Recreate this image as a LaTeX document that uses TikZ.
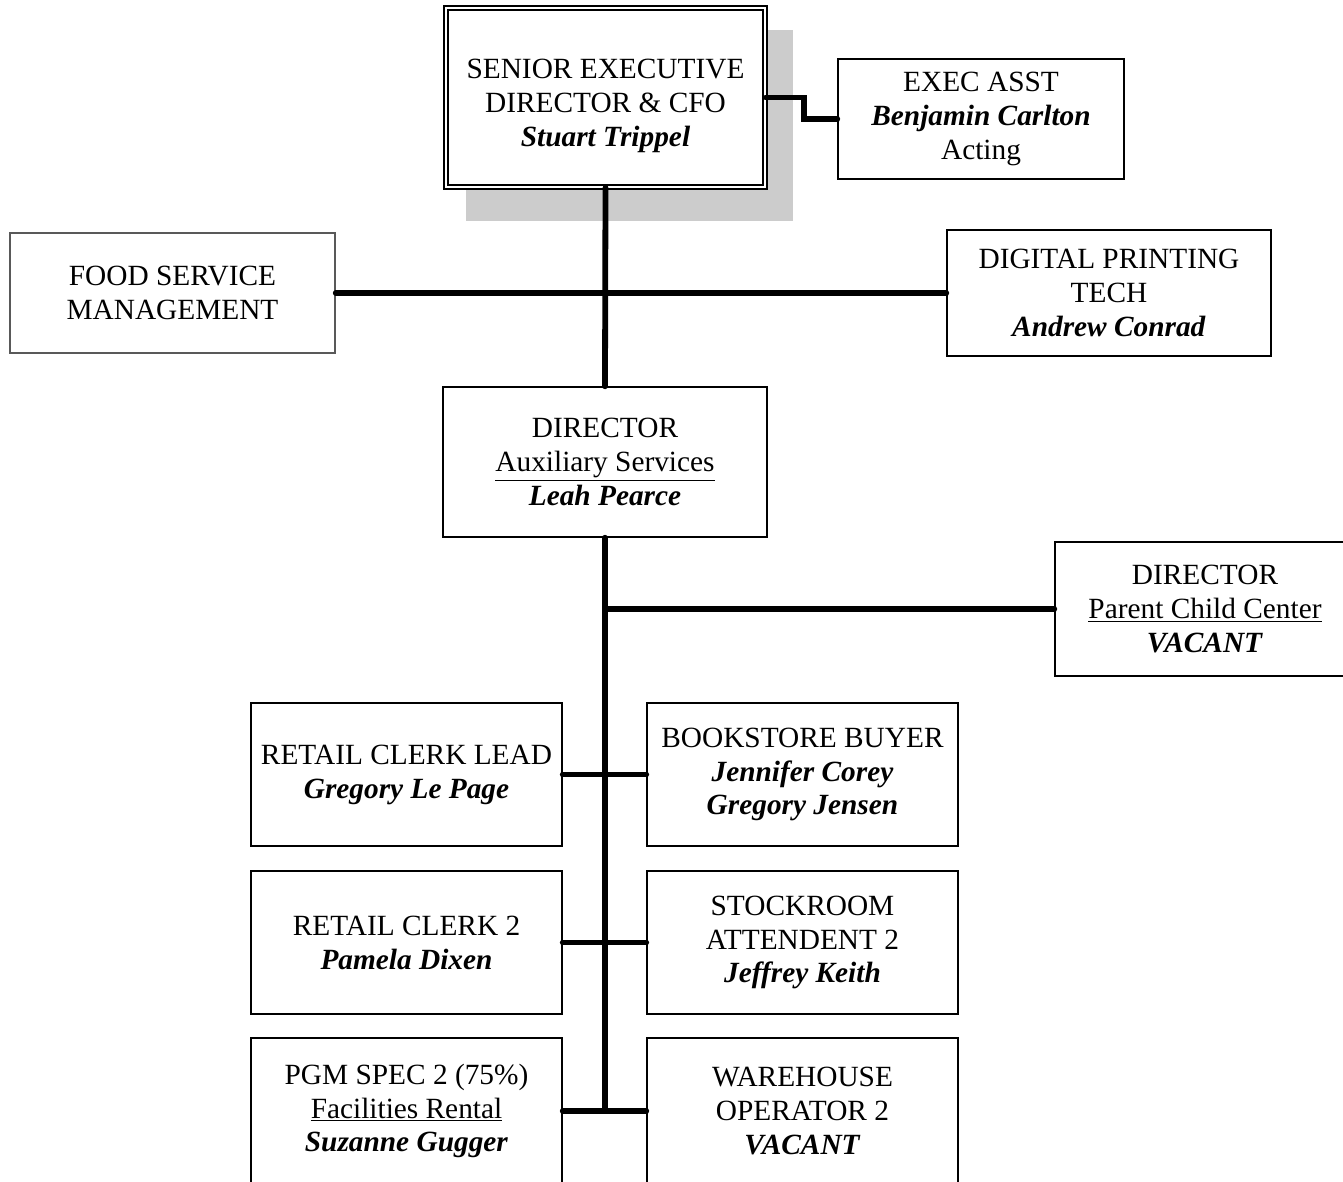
\documentclass[tikz,border=0pt]{standalone}
\usepackage{fontspec}
\setmainfont{Liberation Serif}
\newcommand{\who}[1]{\textbf{\textit{#1}}}
\begin{document}
\begin{tikzpicture}[x=0.02cm,y=-0.02cm,
  box/.style 2 args={draw, line width=0.8pt, align=center, inner sep=0pt,
    minimum width=#1*0.02cm, minimum height=#2*0.02cm,
    font=\fontsize{16.7}{19.3}\selectfont},
  conn/.style={line width=3.3pt, line cap=round}]

\clip (0,0) rectangle (1343,1181);
\fill [gray!40] (466,30) rectangle (793,221);

\node [box={319}{179}, double, double distance=1.5pt, fill=white] (sed) at (605.5,97.5) {};
\node [box={0}{0}, draw=none] (sedtext) at (605.5,106) {SENIOR EXECUTIVE\\DIRECTOR \& CFO\\\who{Stuart Trippel}};
\node [box={286}{120}] (exec) at (981,119) {EXEC ASST\\\who{Benjamin Carlton}\\Acting};
\node [box={325}{120}, draw=gray!70!black] (food) at (172.5,293) {FOOD SERVICE\\MANAGEMENT};
\node [box={324}{126}] (print) at (1109,293) {DIGITAL PRINTING\\TECH\\\who{Andrew Conrad}};
\node [box={324}{150}] (aux) at (605,462) {DIRECTOR\\\underline{Auxiliary Services}\\\who{Leah Pearce}};
\node [box={300}{134}] (pcc) at (1205,609) {DIRECTOR\\\underline{Parent Child Center}\\\who{VACANT}};

\node [box={311}{143}] (lead) at (406.5,774.5) {RETAIL CLERK LEAD\\\who{Gregory Le Page}};
\node [box={311}{143}] (buyer) at (802.5,774.5) {BOOKSTORE BUYER\\\who{Jennifer Corey}\\\who{Gregory Jensen}};
\node [box={311}{143}] (clerk) at (406.5,942.5) {RETAIL CLERK 2\\\who{Pamela Dixen}};
\node [box={311}{143}] (stock) at (802.5,942.5) {STOCKROOM\\ATTENDENT 2\\\who{Jeffrey Keith}};
\node [box={311}{146}] (pgm) at (406.5,1111) {PGM SPEC 2 (75\%)\\\underline{Facilities Rental}\\\who{Suzanne Gugger}};
\node [box={311}{146}] (ware) at (802.5,1111) {WAREHOUSE\\OPERATOR 2\\\who{VACANT}};
\coordinate (tail) at (605,1111);

\draw [conn] (sed.east) -- ++(38,0) |- (exec.west);
\draw [conn] (sed.south) -- (aux.north);
\draw [conn] (food.east) -- (print.west);
\draw [conn] (aux.south) -- (tail);
\draw [conn] (aux.south |- pcc.west) -- (pcc.west);
\draw [conn] (lead.east) -- (buyer.west);
\draw [conn] (clerk.east) -- (stock.west);
\draw [conn] (pgm.east) -- (ware.west);
\end{tikzpicture}
\end{document}
